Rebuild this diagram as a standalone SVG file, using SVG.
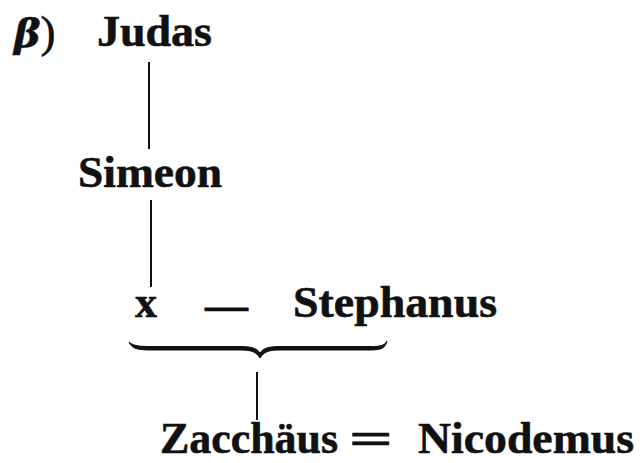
<svg xmlns="http://www.w3.org/2000/svg" width="640" height="463" viewBox="0 0 640 463">
  <style>
    .name { font-family: "Liberation Serif", "Times New Roman", serif; font-weight: bold; font-size: 45px; fill: #111; stroke: #111; stroke-width: 0.6; }
    .link { stroke: #111; stroke-width: 2; fill: none; stroke-linecap: butt; }
  </style>
  <rect width="640" height="463" fill="#fff"/>

  <!-- section label -->
  <g id="label-beta">
    <text class="name" x="14" y="47"><tspan font-style="italic" font-family="'DejaVu Serif', serif" font-size="40">β</tspan><tspan font-weight="normal">)</tspan></text>
  </g>

  <!-- descent lines and the brace joining the couple -->
  <g id="connectors">
    <line class="link" x1="149" y1="62" x2="149" y2="149"/>
    <line class="link" x1="151" y1="200" x2="151" y2="287"/>
    <path d="M129,342 C132,349 138,350 152,350 L240,350 C252,350 256,352 260,358 C264,352 268,350 280,350 L370,350 C382,350 385,348 387,341 C384,346 380,346.5 370,346.5 L280,346.5 C268,346.5 263,348.5 260,353 C257,348.5 252,346.5 240,346.5 L152,346.5 C140,346.5 133,346 129,342 Z" fill="#111" stroke="#111" stroke-width="1"/>
    <line class="link" x1="257" y1="372" x2="257" y2="420"/>
  </g>

  <g id="judas">
    <text class="name" x="97" y="46" textLength="115" lengthAdjust="spacingAndGlyphs">Judas</text>
  </g>
  <g id="simeon">
    <text class="name" x="78" y="187" textLength="144" lengthAdjust="spacingAndGlyphs">Simeon</text>
  </g>
  <g id="x">
    <text class="name" x="135" y="317" textLength="22" lengthAdjust="spacingAndGlyphs">x</text>
  </g>
  <g id="marriage-x-stephanus">
    <text class="name" x="205" y="320" textLength="43" lengthAdjust="spacingAndGlyphs">—</text>
  </g>
  <g id="stephanus">
    <text class="name" x="293" y="317" textLength="204" lengthAdjust="spacingAndGlyphs">Stephanus</text>
  </g>
  <g id="zacchaeus">
    <text class="name" x="160" y="453" textLength="178" lengthAdjust="spacingAndGlyphs">Zacchäus</text>
  </g>
  <g id="marriage-zacchaeus-nicodemus">
    <text class="name" x="349" y="453" textLength="44" lengthAdjust="spacingAndGlyphs">=</text>
  </g>
  <g id="nicodemus">
    <text class="name" x="418" y="453" textLength="216" lengthAdjust="spacingAndGlyphs">Nicodemus</text>
  </g>
</svg>
